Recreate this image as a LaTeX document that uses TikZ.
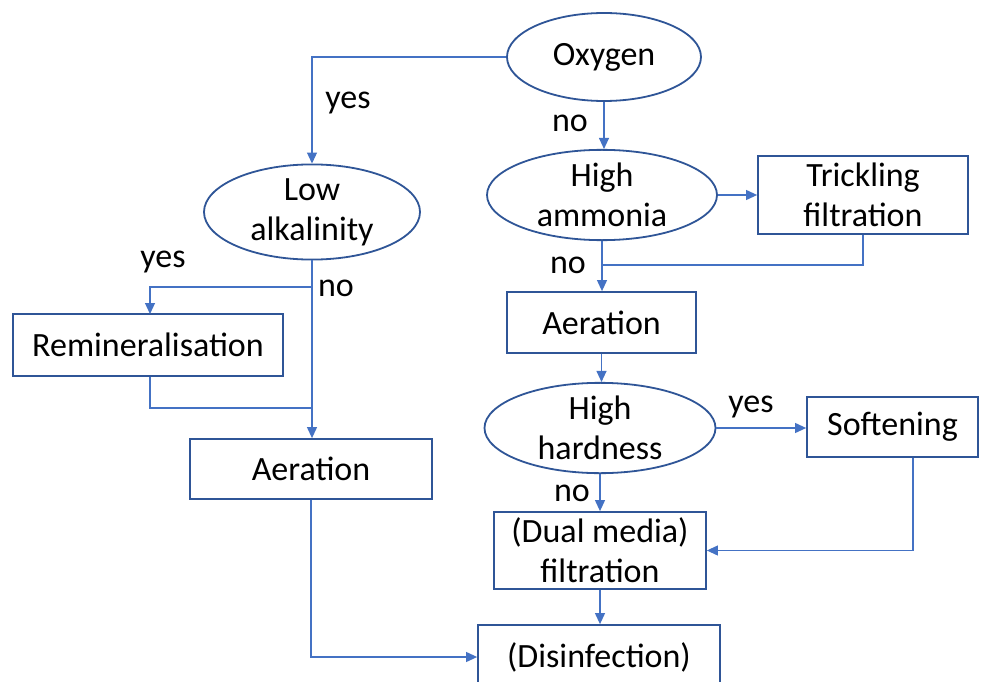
\documentclass[tikz,border=0pt]{standalone}
\usepackage{fontspec}
\setmainfont{Carlito}
\usetikzlibrary{arrows.meta,shapes.geometric}
\definecolor{edgeblue}{HTML}{2F5597}
\definecolor{linkblue}{HTML}{4472C4}
\begin{document}
\begin{tikzpicture}[x=1pt,y=-1pt,
  every node/.style={font=\fontsize{34}{40}\selectfont, text=black},
  decision/.style={ellipse, draw=edgeblue, line width=1.8pt, fill=white,
    inner sep=0pt, align=center},
  process/.style={rectangle, draw=edgeblue, line width=1.8pt, fill=white,
    inner sep=0pt, align=center},
  link/.style={draw=linkblue, line width=1.1pt},
  flow/.style={link, -{Triangle[length=11pt,width=10pt]}},
  tag/.style={inner sep=0pt}]
\clip (0,0) rectangle (1007,682);
\fill[white] (0,0) rectangle (1007,682);

% decisions
\node[decision, minimum width=194pt, minimum height=88pt] (oxy) at (604,57) {Oxygen};
\node[decision, minimum width=216pt, minimum height=88pt] (lowalk) at (312,212) {Low\\alkalinity};
\node[decision, minimum width=230pt, minimum height=86pt] (ammonia) at (602,195) {High\\ammonia};
\node[decision, minimum width=231pt, minimum height=88pt] (hard) at (600,428) {High\\hardness};

% treatment steps
\node[process, minimum width=210pt, minimum height=78pt] (trick) at (863,195) {Trickling\\filtration};
\node[process, minimum width=189pt, minimum height=61pt] (aer2) at (601.5,322.5) {Aeration};
\node[process, minimum width=171pt, minimum height=60pt] (soft) at (892.5,427) {Softening};
\node[process, minimum width=212pt, minimum height=77pt] (dual) at (600,550.5) {(Dual media)\\filtration};
\node[process, minimum width=242pt, minimum height=64pt] (dis) at (599,657) {(Disinfection)};
\node[process, minimum width=270pt, minimum height=62pt] (remin) at (148,345) {Remineralisation};
\node[process, minimum width=242pt, minimum height=60pt] (aer1) at (311,469) {Aeration};

% junction points and drop lines
\coordinate (jamm) at (603,265);
\coordinate (jalk) at (312,287);
\coordinate (jrem) at (312,408);
\coordinate (remtop) at (150,314);
\coordinate (softdrop) at (913,457);

% connectors
\draw[flow] (oxy.west) -| (lowalk.north);
\draw[flow] (oxy.south) -- (oxy.south |- ammonia.north);
\draw[flow] (ammonia.east) -- (ammonia.east -| trick.west);
\draw[flow] (ammonia.south) -- (ammonia.south |- aer2.north);
\draw[link] (trick.south) |- (jamm);
\draw[flow] (aer2.south) -- (aer2.south |- hard.north);
\draw[flow] (hard.east) -- (hard.east -| soft.west);
\draw[flow] (hard.south) -- (hard.south |- dual.north);
\draw[flow] (soft.south -| softdrop) |- (dual.east);
\draw[flow] (dual.south) -- (dual.south |- dis.north);
\draw[flow] (lowalk.south) -- (lowalk.south |- aer1.north);
\draw[flow] (jalk) -| (remtop);
\draw[link] (remin.south -| remtop) |- (jrem);
\draw[flow] (aer1.south) |- (dis.west);

% branch labels
\node[tag] (l1) at (348,103) {yes};
\node[tag] (l2) at (570,123) {no};
\node[tag] (l3) at (568,265) {no};
\node[tag] (l4) at (163,262) {yes};
\node[tag] (l5) at (336,288) {no};
\node[tag] (l6) at (751,407) {yes};
\node[tag] (l7) at (572,493) {no};
\end{tikzpicture}
\end{document}
